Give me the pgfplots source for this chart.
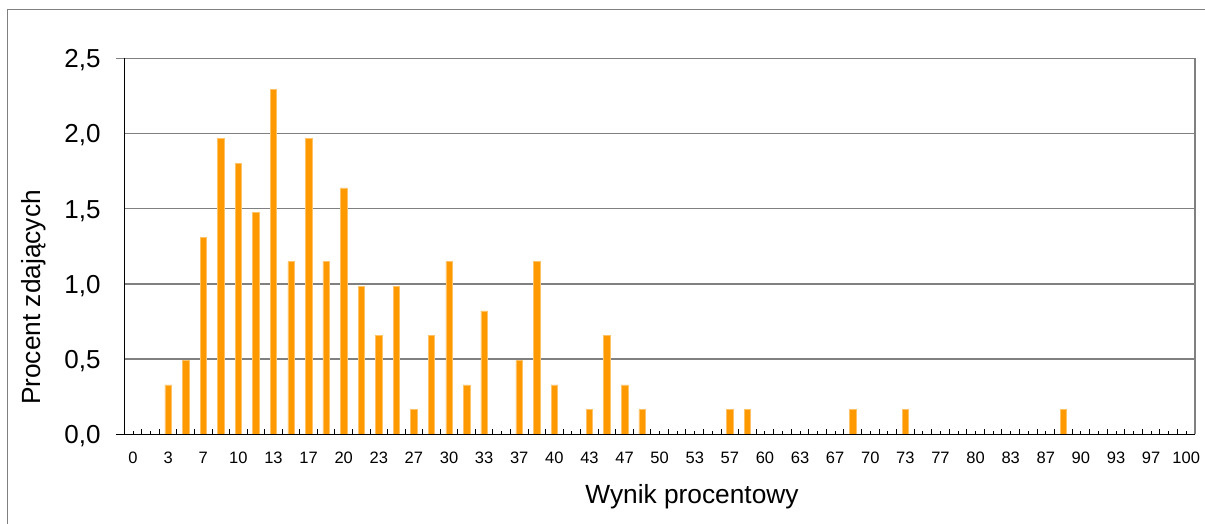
\documentclass[border=0pt]{standalone}
\usepackage{pgfplots}
\pgfplotsset{compat=1.18}
\usepackage{fontspec}
\setmainfont{Liberation Sans}
\definecolor{barorange}{HTML}{FF9900}
\definecolor{baredge}{HTML}{FFC266}
\definecolor{gridgray}{HTML}{808080}

\begin{document}
\begin{tikzpicture}
\begin{axis}[
  name=ax,
  at={(0,0)}, anchor=south west,
  scale only axis,
  width=1070.7bp, height=376bp,
  xmin=-1, xmax=121, ymin=0, ymax=2.5,
  ybar, bar width=6.5bp,
  axis x line*=bottom, axis y line*=left,
  axis line style={black, line width=1.3bp},
  xtick={-1,1,...,121},
  xticklabels={},
  minor xtick={0,2,...,120},
  extra x ticks={0,4,...,120},
  extra x tick labels={0,3,7,10,13,17,20,23,27,30,33,37,40,43,47,50,53,57,60,63,67,70,73,77,80,83,87,90,93,97,100},
  extra x tick style={tick style={draw=none}},
  tick align=inside,
  major tick length=5.5bp,
  minor tick length=3.2bp,
  ytick=\empty,
  extra y ticks={0,0.5,...,2.5},
  extra y tick style={grid=major, tick style={draw=none}},
  tick style={black, line width=1bp},
  grid style={gridgray, line width=1.3bp, shorten <=-8bp},
  /pgf/number format/.cd, assume math mode=true, use comma, fixed, fixed zerofill, precision=1,
  /pgfplots/.cd,
  xticklabel style={font=\fontsize{16.5bp}{18bp}\selectfont, anchor=base, inner sep=0pt, yshift=-29bp},
  yticklabel style={font=\fontsize{26bp}{30bp}\selectfont, anchor=base east, inner sep=0pt, xshift=-23.6bp, yshift=-9.3bp},
  xlabel={Wynik procentowy},
  ylabel={Procent zdających},
  every axis x label/.style={at={(axis description cs:0.5302,-0.1848)}, anchor=base, font=\fontsize{26.3bp}{30bp}\selectfont, inner sep=0pt},
  every axis y label/.style={at={(axis description cs:-0.0783,0.3638)}, anchor=base, rotate=90, font=\fontsize{26.3bp}{30bp}\selectfont, inner sep=0pt},
]
\addplot[fill=barorange, draw=baredge, line width=0.5bp] coordinates {
(4,0.328)(6,0.492)(8,1.311)(10,1.967)(12,1.803)(14,1.475)(16,2.295)(18,1.148)(20,1.967)(22,1.148)
(24,1.639)(26,0.984)(28,0.656)(30,0.984)(32,0.164)(34,0.656)(36,1.148)(38,0.328)(40,0.820)
(44,0.492)(46,1.148)(48,0.328)(52,0.164)(54,0.656)(56,0.328)(58,0.164)
(68,0.164)(70,0.164)(82,0.164)(88,0.164)(106,0.164)};
\end{axis}
\draw[gridgray, line width=1.3bp] (ax.south east) -- (ax.north east);
\draw[black, line width=1.3bp] ([xshift=-8bp]ax.south west) -- (ax.south east);
\draw[black, line width=1.3bp] (ax.south west) -- (ax.north west);
\useasboundingbox ([shift={(-124.3bp,-89.7bp)}]ax.south west) rectangle ([shift={(1080.7bp,434.3bp)}]ax.south west);
\draw[gridgray, line width=1bp] ([shift={(-116.3bp,-89.7bp)}]ax.south west) -- ([shift={(-116.3bp,424.8bp)}]ax.south west) -- ([shift={(1080.7bp,424.8bp)}]ax.south west);
\end{tikzpicture}
\end{document}
